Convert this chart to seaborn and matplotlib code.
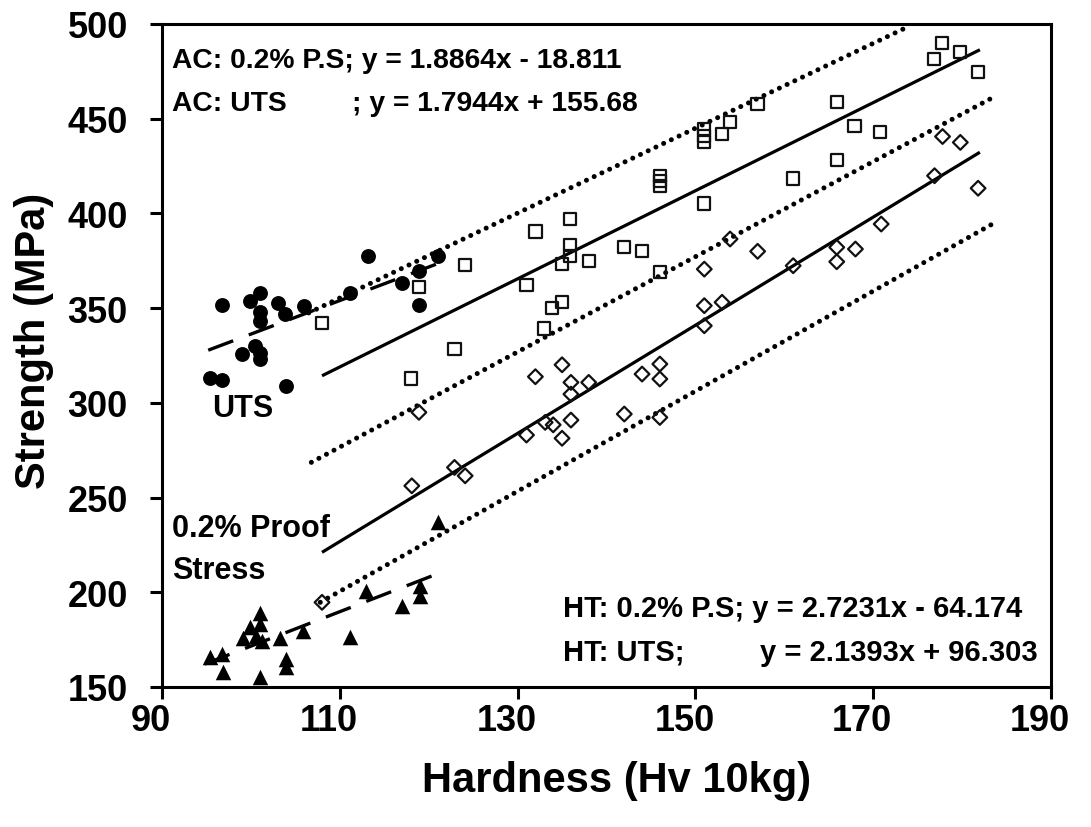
import numpy as np
import pandas as pd
import matplotlib
matplotlib.use("Agg")
import matplotlib.pyplot as plt
import matplotlib.transforms as mtransforms
import seaborn as sns

# ---------------- data ----------------
# As-cast UTS (filled circles)
ac_uts_hv = [95.4, 96.8, 96.8, 99.0, 99.9, 100.5, 101.0, 101.0, 101.0, 101.0, 101.0,
             103.1, 103.8, 103.9, 106.0, 111.1, 113.2, 117.0, 118.9, 118.9, 121.0]
ac_uts_mpa = [313.0, 312.0, 351.8, 325.8, 353.9, 329.8, 326.5, 323.1, 358.0, 348.0, 343.3,
              352.7, 346.9, 308.7, 350.9, 358.0, 377.7, 363.1, 369.8, 351.6, 377.7]

# As-cast 0.2% proof stress (filled triangles)
ac_ps_hv = [95.4, 96.7, 96.9, 99.1, 99.9, 100.6, 101.0, 101.0, 101.2, 101.0, 103.3,
            104.0, 104.0, 105.9, 111.1, 113.0, 117.0, 119.0, 119.0, 121.1]
ac_ps_mpa = [166.0, 167.4, 157.7, 175.8, 181.5, 177.0, 189.0, 183.0, 174.4, 155.2, 176.0,
             164.7, 160.4, 179.7, 176.2, 200.8, 192.9, 198.2, 203.4, 236.9]

# Heat-treated UTS (open squares)
ht_uts_hv = [108.0, 118.0, 118.9, 122.9, 124.1, 131.0, 132.0, 133.0, 133.9, 135.0, 135.0,
             135.9, 135.9, 135.9, 138.0, 142.0, 144.0, 146.0, 146.0, 146.0, 146.0, 151.0,
             151.0, 151.0, 151.0, 153.0, 153.9, 157.0, 161.0, 165.9, 165.9, 167.9, 170.8,
             176.8, 177.7, 179.8, 181.8]
ht_uts_mpa = [342.1, 312.9, 361.0, 328.4, 372.8, 362.2, 390.5, 339.3, 349.9, 353.1, 373.3,
              377.7, 383.5, 397.1, 374.7, 382.1, 380.3, 368.9, 414.6, 417.3, 419.9, 405.3,
              437.9, 441.0, 444.6, 441.9, 448.1, 457.8, 418.5, 428.2, 458.7, 446.0, 442.8,
              481.5, 490.0, 485.1, 474.5]

# Heat-treated 0.2% proof stress (open diamonds)
ht_ps_hv = [108.0, 118.1, 118.9, 122.9, 124.1, 131.0, 132.0, 133.1, 134.0, 135.0, 135.0,
            136.0, 136.0, 136.0, 138.0, 142.0, 144.0, 146.0, 146.0, 146.0, 151.0, 151.0,
            151.0, 153.0, 153.9, 157.0, 161.0, 165.9, 165.9, 168.0, 170.9, 176.9, 177.8,
            179.8, 181.8]
ht_ps_mpa = [194.7, 256.2, 295.0, 265.9, 261.5, 283.0, 313.8, 289.7, 288.4, 281.3, 320.1,
             310.8, 304.6, 290.9, 310.8, 294.1, 315.2, 292.3, 312.6, 320.5, 340.7, 351.3,
             370.6, 353.1, 386.5, 380.0, 372.4, 374.5, 382.1, 381.2, 394.4, 419.9, 440.6,
             437.5, 413.3]

# Fitted lines (end points as drawn in the reference)
ac_uts_fit_x = [95.2, 120.9]
ac_uts_fit_y = [327.8, 373.3]
ac_ps_fit_x = [94.8, 120.9]
ac_ps_fit_y = [162.1, 209.6]
ht_uts_fit_x = [108.0, 182.0]
ht_uts_fit_y = [314.3, 486.4]
ht_ps_fit_x = [108.0, 182.0]
ht_ps_fit_y = [221.1, 432.3]
band_upper_x = [106.5, 173.8]
band_upper_y = [347.5, 498.3]
band_mid_x = [106.8, 183.5]
band_mid_y = [268.6, 461.3]
band_low_x = [107.8, 183.4]
band_low_y = [194.7, 394.4]

x_ticks = [90, 110, 130, 150, 170, 190]
y_ticks = [150, 200, 250, 300, 350, 400, 450, 500]

eq_ac_ps = "AC: 0.2% P.S; y = 1.8864x - 18.811"
eq_ac_uts_a = "AC: UTS"
eq_ac_uts_b = "; y = 1.7944x + 155.68"
eq_ht_ps = "HT: 0.2% P.S; y = 2.7231x - 64.174"
eq_ht_uts_a = "HT: UTS;"
eq_ht_uts_b = "y = 2.1393x + 96.303"

# ---------------- style ----------------
sns.set_style("ticks")
plt.rcParams["font.family"] = ["Liberation Sans", "DejaVu Sans"]
plt.rcParams["font.weight"] = "bold"
plt.rcParams["text.color"] = "black"
plt.rcParams["axes.labelcolor"] = "black"
plt.rcParams["xtick.color"] = "black"
plt.rcParams["ytick.color"] = "black"

W, H = 1091, 828
fig = plt.figure(figsize=(W / 100, H / 100), dpi=100)
L, R, T, B = 162, 1051, 25, 688
ax = fig.add_axes([L / W, 1 - B / H, (R - L) / W, (B - T) / H])

# ---------------- lines ----------------
dash_kw = dict(color="black", lw=2.4, ls=(0, (8.0, 5.0)), zorder=2)
solid_kw = dict(color="black", lw=2.3, ls="-", solid_capstyle="butt", zorder=2)
dot_kw = dict(color="black", lw=3.6, ls=(0, (0.01, 1.7)), dash_capstyle="round", zorder=2)

ax.plot(ac_uts_fit_x, ac_uts_fit_y, **dash_kw)
ax.plot(ac_ps_fit_x, ac_ps_fit_y, **dash_kw)
ax.plot(ht_uts_fit_x, ht_uts_fit_y, **solid_kw)
ax.plot(ht_ps_fit_x, ht_ps_fit_y, **solid_kw)
ax.plot(band_upper_x, band_upper_y, **dot_kw)
ax.plot(band_mid_x, band_mid_y, **dot_kw)
ax.plot(band_low_x, band_low_y, **dot_kw)

# ---------------- points ----------------
series = [
    (ac_uts_hv, ac_uts_mpa, "o", 115, True),
    (ac_ps_hv, ac_ps_mpa, "^", 125, True),
    (ht_uts_hv, ht_uts_mpa, "s", 78, False),
    (ht_ps_hv, ht_ps_mpa, "D", 56, False),
]
for hv, mpa, marker, size, filled in series:
    df = pd.DataFrame({"Hardness": hv, "Strength": mpa})
    sns.scatterplot(data=df, x="Hardness", y="Strength", ax=ax, marker=marker, s=size,
                    color="black", edgecolor="black",
                    linewidth=0 if filled else 1.6, zorder=3, legend=False)
    coll = ax.collections[-1]
    if not filled:
        coll.set_facecolor("none")
        coll.set_edgecolor("#111111")
        coll.set_linewidth(1.6)

# ---------------- axes ----------------
ax.set_xlim(90, 190)
ax.set_ylim(150, 500)
ax.set_xticks(x_ticks)
ax.set_yticks(y_ticks)
for sp in ax.spines.values():
    sp.set_visible(True)
    sp.set_linewidth(2.2)
    sp.set_color("black")
ax.tick_params(axis="both", direction="out", length=8.6, width=2.2, labelsize=26,
               colors="black")
ax.tick_params(axis="y", pad=16)
ax.tick_params(axis="x", pad=3)
for lab in ax.get_xticklabels() + ax.get_yticklabels():
    lab.set_fontweight("bold")
offset = mtransforms.ScaledTranslation(-11 / 100, 0, fig.dpi_scale_trans)
for lab in ax.get_xticklabels():
    lab.set_transform(lab.get_transform() + offset)

ax.set_xlabel("Hardness (Hv 10kg)", fontsize=30, fontweight="bold", va="baseline",
              color="black")
ax.xaxis.set_label_coords((617 - L) / (R - L), (B - 792) / (B - T))
ax.set_ylabel("Strength (MPa)", fontsize=30, fontweight="bold", va="baseline",
              rotation_mode="anchor", color="black")
ax.yaxis.set_label_coords((45 - L) / (R - L), (B - 341) / (B - T))


def ftext(px, py, s, size, ha="left"):
    fig.text(px / W, 1 - py / H, s, fontsize=size, fontweight="bold", ha=ha,
             va="baseline", color="black")


ftext(172, 68, eq_ac_ps, 20.3)
ftext(172, 111, eq_ac_uts_a, 20.3)
ftext(352, 111, eq_ac_uts_b, 20.3)
ftext(563, 617, eq_ht_ps, 21)
ftext(563, 661, eq_ht_uts_a, 21)
ftext(1038, 661, eq_ht_uts_b, 21, ha="right")
ftext(212, 417, "UTS", 22)
ftext(172, 537, "0.2% Proof", 22)
ftext(172, 579, "Stress", 22)

fig.savefig("out.png", dpi=100)
